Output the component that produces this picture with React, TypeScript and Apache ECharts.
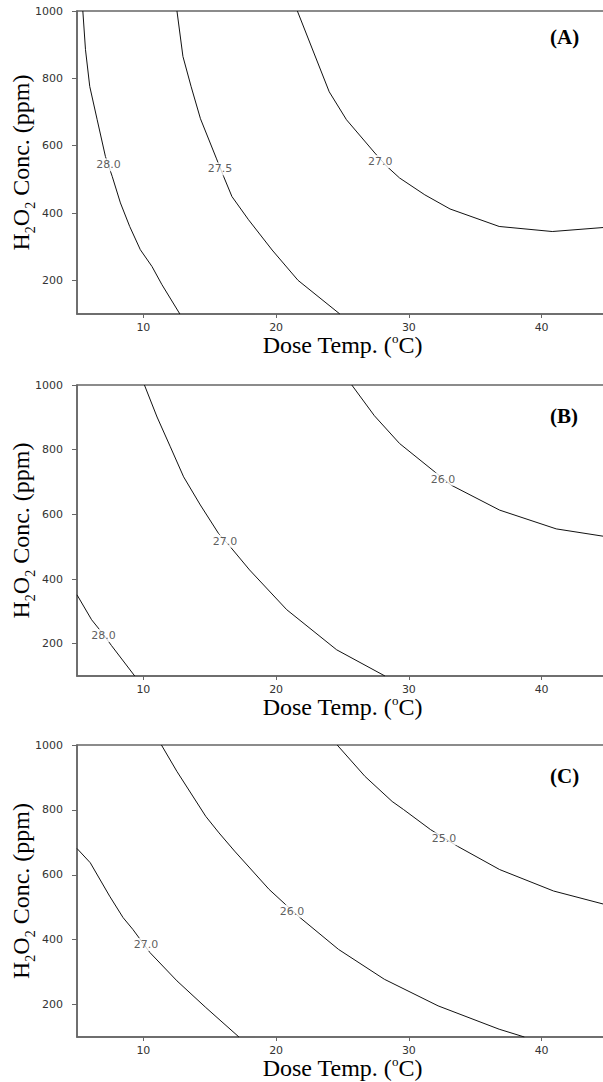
import React, { useEffect, useRef } from 'react';
import * as echarts from 'echarts';

// Tick labels
const xTicks = [10, 20, 30, 40];
const yTicks = [200, 400, 600, 800, 1000];
const panelLetters = ['(A)', '(B)', '(C)'];

// Panel A contours: [Dose Temp (°C), H2O2 (ppm)]
const a280 = [[5.44, 1000], [5.64, 885], [5.96, 776], [6.52, 677], [7.14, 568], [7.65, 509], [8.27, 430], [8.97, 360], [9.77, 291], [10.65, 241], [11.4, 187], [12.75, 100]];
const a275 = [[12.53, 1000], [12.98, 865], [13.6, 775], [14.3, 680], [15.49, 563], [16.04, 509], [16.67, 449], [17.92, 380], [19.7, 290], [21.65, 200], [24.8, 100]];
const a270 = [[21.6, 1000], [22.7, 890], [24.0, 760], [25.3, 677], [27.44, 578], [28.3, 540], [29.3, 504], [31.2, 454], [33.1, 412], [36.8, 360], [40.8, 345], [45, 358]];
const aLabelText = ['28.0', '27.5', '27.0'];
const aLabelPos = [[7.38, 543], [15.77, 531], [27.84, 553]];

// Panel B contours
const b280 = [[5, 351], [6.1, 274], [7.0, 228], [7.6, 194], [9.35, 100]];
const b270 = [[10.08, 1000], [11.03, 901], [12.03, 809], [13.03, 716], [14.29, 629], [15.66, 541], [16.54, 500], [18.0, 428], [20.8, 305], [24.56, 181], [28.2, 100]];
const b260 = [[25.7, 1000], [27.4, 905], [29.3, 819], [32.08, 727], [33.2, 690], [36.84, 613], [41.1, 555], [45, 530]];
const bLabelText = ['28.0', '27.0', '26.0'];
const bLabelPos = [[7.0, 225], [16.15, 517], [32.57, 709]];

// Panel C contours
const c270 = [[5, 681], [6.0, 637], [7.46, 534], [8.47, 468], [9.2, 432], [10.5, 360], [12.53, 273], [14.7, 191], [17.2, 100]];
const c260 = [[11.36, 1000], [12.52, 919], [14.7, 780], [15.7, 729], [16.87, 673], [19.47, 555], [20.77, 506], [21.8, 468], [24.7, 370], [28.15, 278], [32.2, 196], [36.8, 124], [38.7, 100]];
const c250 = [[24.6, 1000], [26.7, 903], [28.74, 826], [29.6, 801], [31.64, 739], [33.66, 688], [36.84, 616], [40.9, 550], [45, 506]];
const cLabelText = ['27.0', '26.0', '25.0'];
const cLabelPos = [[10.2, 385], [21.2, 488], [32.65, 711]];

const panels = [
  { lines: [a280, a275, a270], texts: aLabelText, pos: aLabelPos },
  { lines: [b280, b270, b260], texts: bLabelText, pos: bLabelPos },
  { lines: [c270, c260, c250], texts: cLabelText, pos: cLabelPos },
];

const gridLayout = [
  { top: 11, height: 303 },
  { top: 385, height: 291 },
  { top: 745, height: 292 },
];

const SERIF = "'Times New Roman', 'Liberation Serif', serif";
const SANS = "'DejaVu Sans', sans-serif";

export default function App() {
  const ref = useRef<HTMLDivElement>(null);
  useEffect(() => {
    document.body.style.margin = '0';
    if (!ref.current) return;
    const chart = echarts.init(ref.current, undefined, { renderer: 'svg' });

    const grid: any[] = [];
    const xAxis: any[] = [];
    const yAxis: any[] = [];
    const series: any[] = [];
    const graphic: any[] = [];

    panels.forEach((p, i) => {
      const g = gridLayout[i];
      grid.push({
        left: 77, width: 531, top: g.top, height: g.height,
        outerBoundsMode: 'none', containLabel: false,
        show: true, borderColor: '#666', borderWidth: 1.5, backgroundColor: 'transparent',
      });
      xAxis.push({
        type: 'value', gridIndex: i, min: 5, max: 45,
        name: '{n|Dose Temp. (}{p|o}{n|C)}',
        nameLocation: 'middle', nameGap: 18, nameMoveOverlap: false,
        nameTextStyle: {
          rich: {
            n: { fontFamily: SERIF, fontSize: 24, lineHeight: 26, color: '#000', verticalAlign: 'middle' },
            p: { fontFamily: SERIF, fontSize: 13, lineHeight: 13, color: '#000', verticalAlign: 'top' },
          },
        },
        axisLine: { show: true, lineStyle: { color: '#666', width: 1.5 } },
        axisTick: { show: true, length: 4, customValues: xTicks, lineStyle: { color: '#666', width: 1 } },
        axisLabel: { customValues: xTicks, margin: 8, fontFamily: SANS, fontSize: 11, color: '#333', formatter: (v: number) => String(v) },
        splitLine: { show: false },
      });
      yAxis.push({
        type: 'value', gridIndex: i, min: 100, max: 1000,
        name: '{n|H}{s|2}{n|O}{s|2}{n| Conc. (ppm)}',
        nameLocation: 'middle', nameGap: 40, nameMoveOverlap: false,
        nameTextStyle: {
          rich: {
            n: { fontFamily: SERIF, fontSize: 24, lineHeight: 32, color: '#000', verticalAlign: 'middle' },
            s: { fontFamily: SERIF, fontSize: 14, lineHeight: 12, color: '#000', verticalAlign: 'bottom' },
          },
        },
        axisLine: { show: true, lineStyle: { color: '#666', width: 1.5 } },
        axisTick: { show: true, length: 5, customValues: yTicks, lineStyle: { color: '#666', width: 1 } },
        axisLabel: { customValues: yTicks, margin: 14, fontFamily: SANS, fontSize: 11, color: '#333', formatter: (v: number) => String(v) },
        splitLine: { show: false },
      });
      p.lines.forEach((d) => {
        series.push({
          type: 'line', xAxisIndex: i, yAxisIndex: i, data: d,
          showSymbol: false, symbol: 'none', smooth: false,
          lineStyle: { color: '#111', width: 1 },
          silent: true, z: 2,
        });
      });
      series.push({
        type: 'scatter', xAxisIndex: i, yAxisIndex: i,
        data: p.pos.map((v, k) => ({ value: v, name: p.texts[k] })),
        symbolSize: 1, itemStyle: { color: 'transparent' },
        label: {
          show: true, position: 'inside', formatter: '{b}',
          fontFamily: SANS, fontSize: 11, color: '#333',
          backgroundColor: '#fff', padding: [1, 2],
        },
        silent: true, z: 5,
      });
      graphic.push({
        type: 'text', left: 567 - 17, top: [26, 405, 765][i],
        style: { text: panelLetters[i], font: `bold 21px ${SERIF}`, fill: '#000' },
      });
    });

    chart.setOption({
      animation: false,
      backgroundColor: '#fff',
      grid, xAxis, yAxis, series, graphic,
    });
    return () => chart.dispose();
  }, []);
  return <div ref={ref} style={{ width: 603, height: 1082 }} />;
}
